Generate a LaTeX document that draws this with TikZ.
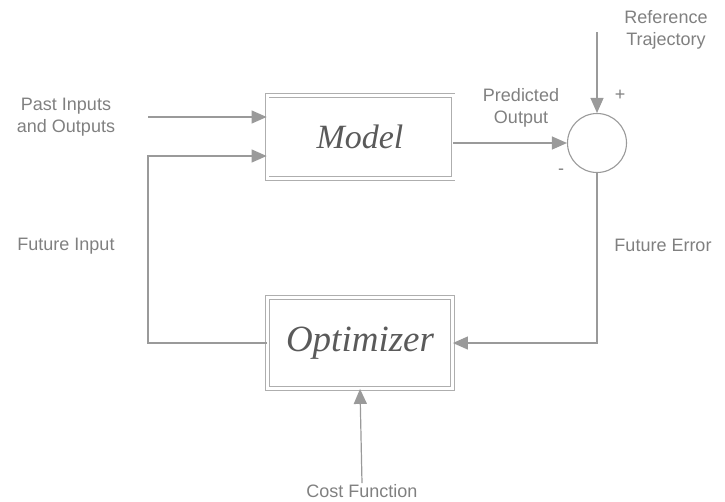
\documentclass[tikz,border=0pt]{standalone}
\usepackage{fontspec}
\setmainfont{Liberation Serif}
\setsansfont{Liberation Sans}
\usetikzlibrary{arrows.meta,positioning}
\definecolor{linegray}{HTML}{9A9A9A}
\definecolor{textgray}{HTML}{808080}
\definecolor{boxtext}{HTML}{5A5A5A}

\begin{document}
\begin{tikzpicture}[x=1pt, y=-1pt, node distance=206pt]
    % Styles
    \tikzstyle{block} = [rectangle, draw=linegray!80, double, double distance=3pt, line width=0.8pt, font=\fontsize{34}{40}\selectfont\itshape, text=boxtext]
    \tikzstyle{label} = [font=\sffamily\fontsize{18}{22}\selectfont, text=textgray, align=center, inner sep=1pt]
    \tikzstyle{arrow} = [line width=1.2pt, draw=linegray, ->, >={Triangle[length=15pt, width=13pt]}, color=linegray]

    \useasboundingbox (0,0) rectangle (725,501);

    % Nodes
    \node [block, minimum width=186pt, minimum height=83pt] (model) at (360,137) {Model};
    \node [block, minimum width=185pt, minimum height=91pt, font=\fontsize{37}{42}\selectfont\itshape, below of=model] (optim) {Optimizer};
    \node [circle, draw=linegray, line width=1.1pt, minimum size=59pt, inner sep=0pt] (sum) at (597,143) {};

    \node [label] (reftext) at (666,30) {Reference\\Trajectory};
    \node [label] (predtext) at (521,108) {Predicted\\Output};
    \node [label] (pasttext) at (66,117) {Past Inputs\\and Outputs};
    \node [label] (futin) at (66,246) {Future Input};
    \node [label] (futerr) at (663,245) {Future Error};
    \node [label] (cost) at (362,491) {Cost Function};
    \node [label] (plus) at (620,95) {+};
    \node [label] (minus) at (561,172) {-};

    \coordinate (reftop) at (597,32);
    \coordinate (pastin) at (148,117);
    \coordinate (corner) at (148,343);

    % Arrows
    \draw [arrow] (reftop) -- (sum.north);
    \draw [arrow] (model.east |- sum.west) -- (sum.west);
    \draw [arrow] (pastin) -- (model.west |- pastin);
    \draw [arrow] (sum.south) |- (optim.east);
    \draw [arrow] (optim.west) -- (corner) |- ([yshift=-19pt]model.west);
    \draw [arrow] (cost.north) -- (optim.south);
\end{tikzpicture}
\end{document}
